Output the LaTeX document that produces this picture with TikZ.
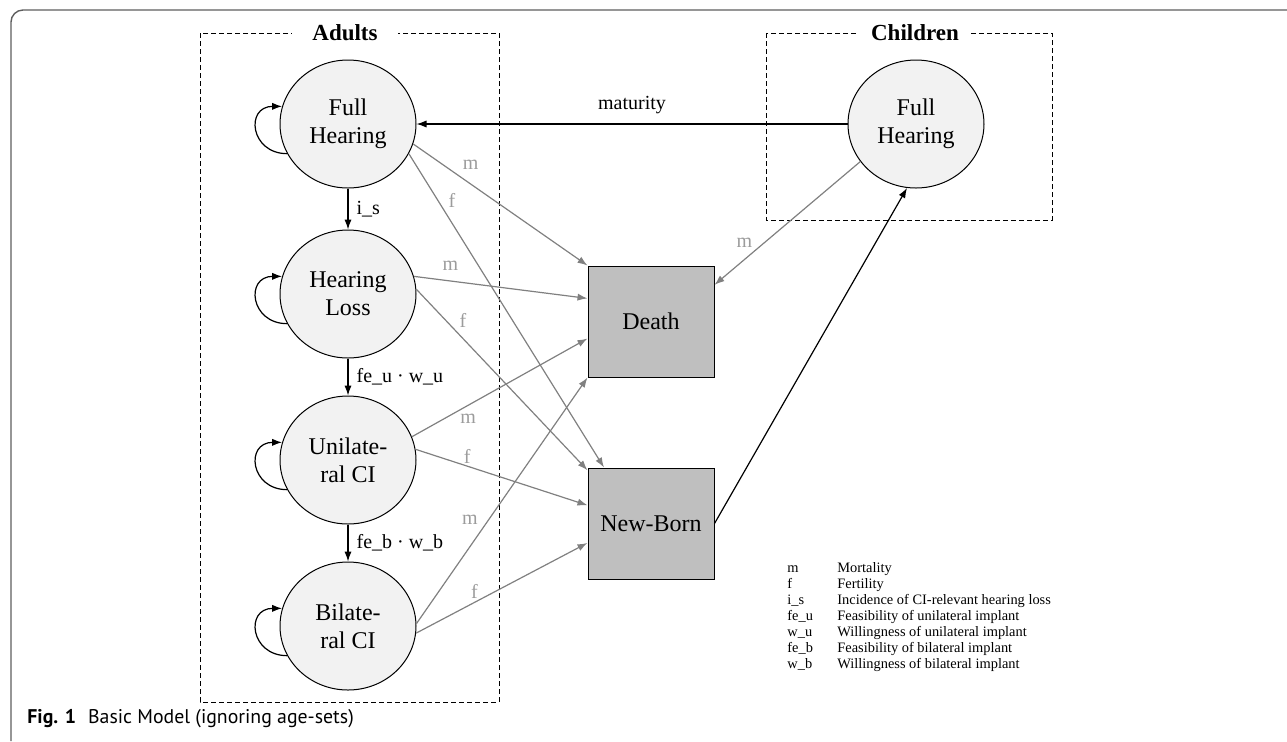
\documentclass[tikz,border=0pt]{standalone}
\usepackage{fontspec}
\setmainfont{Liberation Serif}
\newfontfamily\captionfont{PT Sans}
\usetikzlibrary{shapes.geometric, arrows.meta}
\definecolor{framegray}{HTML}{5E5E5E}
\definecolor{linegray}{HTML}{808080}
\definecolor{labelgray}{HTML}{9C9C9C}
\definecolor{statefill}{HTML}{F2F2F2}
\definecolor{sinkfill}{HTML}{BFBFBF}
\tikzstyle{arrow} = [line width=0.6pt,-{Latex[length=5pt,width=3.6pt]}]
\tikzstyle{rate arrow} = [arrow,draw=linegray]

\begin{document}
\begin{tikzpicture}
        [
            x=0.5pt, y=-0.5pt,
            state/.style={ellipse,draw=black,line width=0.5pt,fill=statefill,minimum width=68pt,minimum height=64pt,inner sep=0pt,align=center,font=\fontsize{12}{14}\selectfont},
            sink/.style={rectangle,draw=black,line width=0.5pt,fill=sinkfill,minimum width=63pt,minimum height=55.5pt,font=\fontsize{12}{14}\selectfont},
            group/.style={draw=black,line width=0.5pt,dash pattern=on 2.5pt off 1.5pt},
            grouptitle/.style={fill=white,inner ysep=1pt,inner xsep=6pt,font=\fontsize{11.5}{13}\selectfont\bfseries},
            rate/.style={inner sep=0pt,text=labelgray,font=\fontsize{10}{12}\selectfont},
            trans/.style={inner sep=0pt,font=\fontsize{10}{12}\selectfont},
            legend/.style={inner sep=0pt,anchor=base west,font=\fontsize{7.2}{8}\selectfont},
        ]

    \useasboundingbox (0,0) rectangle (1287,741);
    \draw[framegray,line width=0.7pt,rounded corners=6pt] (11,741) -- (11,10) -- (1287,10);

    % groups
    \draw[group] (200,33) rectangle (499,702);
    \draw[group] (766,33) rectangle (1052,220);
    \node[grouptitle,inner xsep=10pt] (adults) at (345,33) {Adults};
    \node[grouptitle] (children) at (915,33) {Children};

    % states
    \node[state] (afh) at (348,124) {Full\\Hearing};
    \node[state] (ahl) at (348,294) {Hearing\\Loss};
    \node[state] (uci) at (348,460) {Unilate-\\ral CI};
    \node[state] (bci) at (348,626) {Bilate-\\ral CI};
    \node[state] (cfh) at (916,124) {Full\\Hearing};
    \node[sink] (death) at (651,321.5) {Death};
    \node[sink] (nb) at (651,523.5) {New-Born};

    % staying in a state
    \foreach \s in {afh,ahl,uci,bci}
        \draw[arrow] (\s.206) to[out=180,in=180,looseness=2] (\s.165);

    % transitions
    \draw[arrow] (afh) -- node[trans,right=4pt]{i\_s} (ahl);
    \draw[arrow] (ahl) -- node[trans,right=4pt]{fe\_u · w\_u} (uci);
    \draw[arrow] (uci) -- node[trans,right=4pt]{fe\_b · w\_b} (bci);
    \draw[arrow] (cfh) -- node[trans,above=5pt]{maturity} (afh);
    \draw[arrow] (nb.east) -- (cfh.-98);

    % mortality and fertility
    \draw[rate arrow] (afh.-17) -- node[rate,pos=0.33,above=7pt]{m} (death.north west);
    \draw[rate arrow] (afh.-26) -- node[rate,pos=0.15,right=5pt]{f} (nb.130);
    \draw[rate arrow] (ahl.15) -- node[rate,pos=0.21,above=4.7pt]{m} (death.160);
    \draw[rate arrow] (ahl.4) -- node[rate,pos=0.17,right=6.8pt]{f} (nb.140);
    \draw[rate arrow] (uci.20) -- node[rate,pos=0.32,below=4pt]{m} (death.195);
    \draw[rate arrow] (uci.9) -- node[rate,pos=0.30,above=1pt]{f} (nb.164);
    \draw[rate arrow] (bci.2) -- node[rate,pos=0.42,left=5pt]{m} (death.south west);
    \draw[rate arrow] (bci.-6) -- node[rate,pos=0.34,above=1.6pt]{f} (nb.197);
    \draw[rate arrow] (cfh.-146) -- node[rate,pos=0.66,left=5.6pt]{m} (death.30);

    % legend
    \foreach \k/\t [count=\i from 0] in {m/Mortality, f/Fertility, i\_s/Incidence of CI-relevant hearing loss, fe\_u/Feasibility of unilateral implant, w\_u/Willingness of unilateral implant, fe\_b/Feasibility of bilateral implant, w\_b/Willingness of bilateral implant}{
        \node[legend] (key\i) at (787,572+16*\i) {\k};
        \node[legend] (desc\i) at (837,572+16*\i) {\t};
    }

    \node[anchor=base west,inner sep=0pt,font=\captionfont\fontsize{9.9}{11}\selectfont] (caption) at (27,723) {\textbf{Fig. 1}\hspace{6pt}Basic Model (ignoring age-sets)};
\end{tikzpicture}
\end{document}
